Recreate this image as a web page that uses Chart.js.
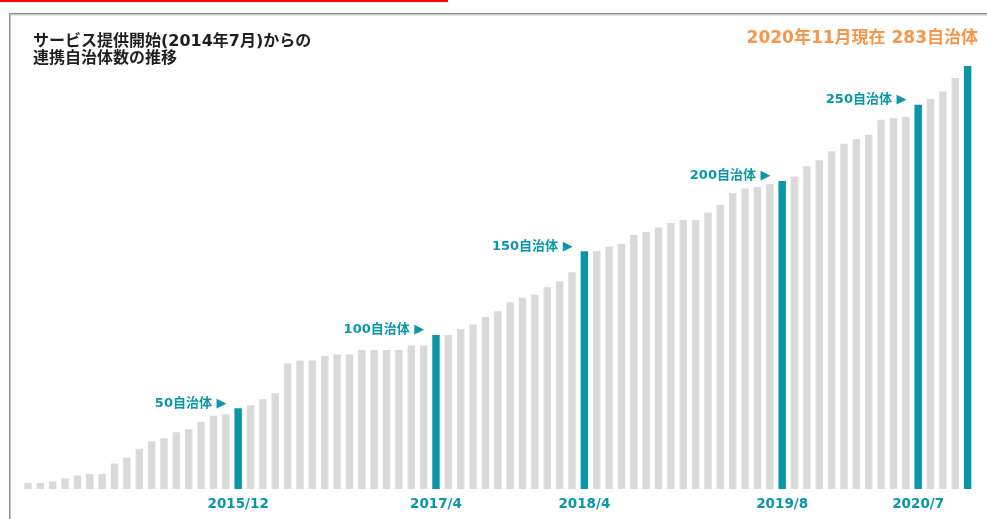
<!DOCTYPE html>
<html>
<head>
<meta charset="utf-8">
<script src="https://cdn.jsdelivr.net/npm/chart.js@4/dist/chart.umd.min.js"></script>
<style>
  html, body { margin: 0; padding: 0; background: #ffffff; }
  canvas { display: block; }
</style>
</head>
<body>
<canvas id="c" width="987" height="519"></canvas>
<script>
// ---- data ----
const months = [];
for (let y = 2014, m = 7; y < 2020 || (y === 2020 && m <= 11); ) {
  months.push(y + '/' + m);
  m++; if (m > 12) { m = 1; y++; }
}
const counts = [
  4, 4, 5, 7, 9, 10, 10, 17, 21, 27, 32, 34, 38, 40, 45, 49, 50, 54,
  56, 60, 64, 84, 86, 86, 89, 90, 90, 93, 93, 93, 93, 96, 96, 103,
  103, 107, 110, 115, 119, 125, 128, 130, 135, 139, 145, 159,
  159, 162, 164, 170, 172, 175, 178, 180, 180, 185, 190, 198, 201, 202, 204, 206,
  209, 216, 220, 226, 231, 234, 237, 247, 248, 249, 257, 261, 266, 275, 283
];
const milestoneMonths = ['2015/12', '2017/4', '2018/4', '2019/8', '2020/7'];
const milestoneLabels = ['50自治体 ▶', '100自治体 ▶', '150自治体 ▶', '200自治体 ▶', '250自治体 ▶'];
const tickLabels = ['2015/12', '2017/4', '2018/4', '2019/8', '2020/7'];
const latestMonth = '2020/11';
const titleLines = ['サービス提供開始(2014年7月)からの', '連携自治体数の推移'];
const latestText = '2020年11月現在 283自治体';

// ---- styles ----
const TEAL = '#0896a8';
const GRAY = '#d9d9d9';
const ORANGE = '#f5964a';
const FONT = '"DejaVu Sans", "Noto Sans CJK JP", sans-serif';

const barColors = months.map(m =>
  (milestoneMonths.includes(m) || m === latestMonth) ? TEAL : GRAY);

const decor = {
  id: 'decor',
  beforeDraw(chart) {
    const ctx = chart.ctx;
    ctx.save();
    ctx.fillStyle = '#ffffff';
    ctx.fillRect(0, 0, chart.width, chart.height);
    // red top line
    ctx.fillStyle = '#ff0000';
    ctx.fillRect(0, 0, 448, 2);
    // frame
    ctx.strokeStyle = '#e6e6e6';
    ctx.lineWidth = 1;
    ctx.beginPath();
    ctx.moveTo(11, 15.5); ctx.lineTo(987, 15.5);
    ctx.stroke();
    ctx.strokeStyle = '#8f8f8f';
    ctx.lineWidth = 1.5;
    ctx.beginPath();
    ctx.moveTo(9.75, 519); ctx.lineTo(9.75, 13.75); ctx.lineTo(987, 13.75);
    ctx.stroke();
    ctx.restore();
  },
  afterDatasetsDraw(chart) {
    const ctx = chart.ctx;
    const xs = chart.scales.x, ys = chart.scales.y;
    ctx.save();
    // title
    ctx.fillStyle = '#1e1e1e';
    ctx.font = 'bold 16px ' + FONT;
    ctx.textAlign = 'left';
    ctx.textBaseline = 'middle';
    ctx.fillText(titleLines[0], 33, 41.8);
    ctx.fillText(titleLines[1], 33, 58.4);
    // latest text
    ctx.fillStyle = ORANGE;
    ctx.font = 'bold 17px ' + FONT;
    ctx.textAlign = 'right';
    ctx.fillText(latestText, 978, 38.5);
    // milestone annotations
    const meta = chart.getDatasetMeta(0);
    ctx.fillStyle = TEAL;
    ctx.font = 'bold 13px ' + FONT;
    ctx.textAlign = 'right';
    milestoneMonths.forEach((m, k) => {
      const i = months.indexOf(m);
      const bx = xs.getPixelForValue(i);
      const by = ys.getPixelForValue(counts[i]);
      const w = meta.data[i].width;
      ctx.fillText(milestoneLabels[k], bx - w / 2 - 8, by - 5);
    });
    // x tick labels
    ctx.font = 'bold 13.5px ' + FONT;
    ctx.textAlign = 'center';
    tickLabels.forEach(t => {
      const i = months.indexOf(t);
      ctx.fillText(t, xs.getPixelForValue(i), 504);
    });
    ctx.restore();
  }
};

new Chart(document.getElementById('c'), {
  type: 'bar',
  data: {
    labels: months,
    datasets: [{
      data: counts,
      backgroundColor: barColors,
      borderWidth: 0,
      barPercentage: 0.6,
      categoryPercentage: 1.0
    }]
  },
  options: {
    responsive: false,
    devicePixelRatio: 1,
    animation: false,
    layout: { padding: { left: 21.8, right: 13.2, top: 40.6, bottom: 30 } },
    plugins: { legend: { display: false }, tooltip: { enabled: false } },
    scales: {
      x: { display: false },
      y: { display: false, min: 0, max: 300 }
    }
  },
  plugins: [decor]
});
</script>
</body>
</html>
